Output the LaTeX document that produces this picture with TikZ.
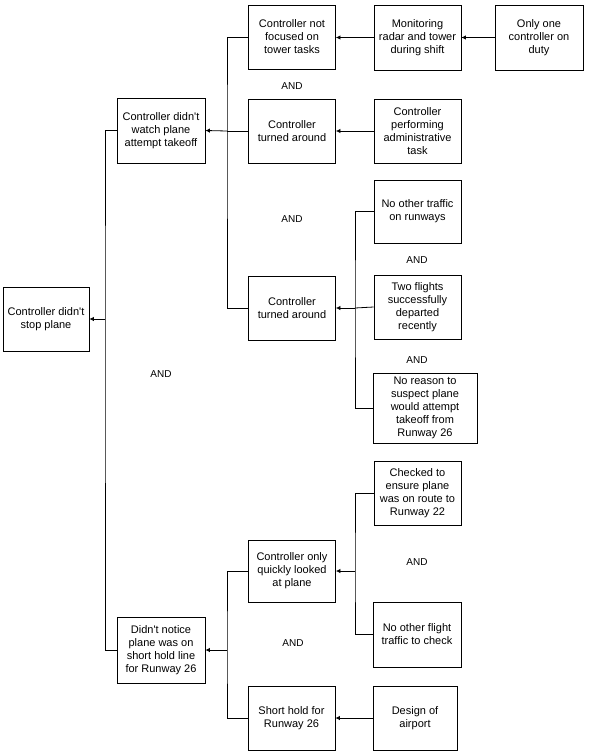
\documentclass[tikz,border=0pt]{standalone}
\usepackage{fontspec}
\setmainfont{Liberation Sans}
\usepackage{tikz}
\usetikzlibrary{arrows.meta, positioning}

\begin{document}
\begin{tikzpicture}[x=1bp, y=-1bp, line width=0.8bp,
        box/.style={draw, align=center, inner sep=0pt, minimum width=87bp, minimum height=64bp, font=\fontsize{11bp}{13bp}\selectfont},
        gate/.style={font=\fontsize{10bp}{12bp}\selectfont},
        arr/.style={-{Latex[length=4.5bp, width=4.5bp]}}]
        \useasboundingbox (0,0) rectangle (590,754);
        \node (stop) [box, minimum width=86bp] at (46,319) {Controller didn\textquotesingle t\\stop plane};
        \node (watch) [box, minimum width=88bp, minimum height=65bp] at (161,130.5) {Controller didn\textquotesingle t\\watch plane\\attempt takeoff};
        \node (notice) [box, minimum width=88bp, minimum height=66bp] at (161,650) {Didn\textquotesingle t notice\\plane was on\\short hold line\\for Runway 26};
        \node (focus) [box] at (292,37) {Controller not\\focused on\\tower tasks};
        \node (turn1) [box] at (292,131) {Controller\\turned around};
        \node (turn2) [box] at (292,308) {Controller\\turned around};
        \node (radar) [box, minimum height=65bp] at (417.5,37.5) {Monitoring\\radar and tower\\during shift};
        \node (one) [box, minimum width=88bp, minimum height=65bp] at (539,37.5) {Only one\\controller on\\duty};
        \node (admin) [box] at (417.5,131) {Controller\\performing\\administrative\\task};
        \node (notraf) [box, minimum height=63bp] at (417.5,211.5) {No other traffic\\on runways};
        \node (two) [box] at (417.5,307) {Two flights\\successfully\\departed\\recently};
        \node (reason) [box, minimum width=104bp, minimum height=70bp] at (425,408) {No reason to\\suspect plane\\would attempt\\takeoff from\\Runway 26};
        \node (check) [box] at (417.5,493) {Checked to\\ensure plane\\was on route to\\Runway 22};
        \node (look) [box, minimum height=62bp] at (292,571) {Controller only\\quickly looked\\at plane};
        \node (noflt) [box, minimum width=88bp, minimum height=65bp] at (417,634.5) {No other flight\\traffic to check};
        \node (hold) [box] at (291.5,718) {Short hold for\\Runway 26};
        \node (design) [box, minimum width=84bp] at (415,718) {Design of\\airport};
        \node (and1) [gate] at (292,86) {AND};
        \node (and2) [gate] at (292,219) {AND};
        \node (and3) [gate] at (161,374) {AND};
        \node (and4) [gate] at (417,260) {AND};
        \node (and5) [gate] at (417,360) {AND};
        \node (and6) [gate] at (417,562) {AND};
        \node (and7) [gate] at (293,643) {AND};
        \coordinate (j0) at (105,319);
        \coordinate (j1) at (227,131);
        \coordinate (j2) at (355,308);
        \coordinate (j3) at (227,650);
        \coordinate (j4) at (355,571);
        \draw (watch.west) -| (j0) |- (notice.west);
        \draw (focus.west) -| (j1) |- (turn2.west);
        \draw (turn1.west) -- (j1);
        \draw (notraf.west) -| (j2) |- (reason.west);
        \draw (two.west) -- (j2);
        \draw (look.west) -| (j3) |- (hold.west);
        \draw (check.west) -| (j4) |- (noflt.west);
        \path [arr]
            (j0) edge (stop.east)
            (j1) edge (watch.east)
            (j2) edge (turn2.east)
            (j3) edge (notice.east)
            (j4) edge (look.east)
            (radar.west) edge (focus.east |- radar.west)
            (one.west) edge (radar.east |- one.west)
            (admin.west) edge (turn1.east |- admin.west)
            (design.west) edge (hold.east |- design.west)
            ;
    \end{tikzpicture}
\end{document}
